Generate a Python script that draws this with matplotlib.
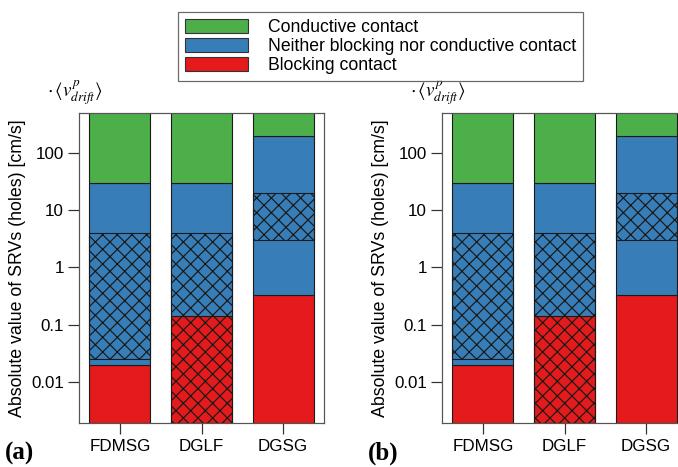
import matplotlib
matplotlib.use("Agg")
import matplotlib.pyplot as plt
from matplotlib.patches import Patch

# ---- data ----
categories = ["FDMSG", "DGLF", "DGSG"]
blocking_top = [0.02, 0.14, 0.33]        # top of red (blocking) segment
conductive_bottom = [30, 30, 200]        # bottom of green (conductive) segment
hatch_low = [0.025, None, 3]             # hatched region lower bound (None = axis bottom)
hatch_high = [4, 4, 20]                  # hatched region upper bound
ytick_vals = [0.01, 0.1, 1, 10, 100]
ytick_labels = ["0.01", "0.1", "1", "10", "100"]
legend_labels = ["Conductive contact", "Neither blocking nor conductive contact", "Blocking contact"]
panel_labels = ["(a)", "(b)"]

YMIN, YMAX = 0.0019, 500

GREEN, BLUE, RED = "#4daf4a", "#377eb8", "#e41a1c"
EDGE = "#1a1a1a"

dpi = 88
def px(p):
    return p * 72.0 / dpi

plt.rcParams["font.family"] = ["Liberation Sans", "DejaVu Sans"]
plt.rcParams["mathtext.fontset"] = "stix"
plt.rcParams["hatch.linewidth"] = 1.0
plt.rcParams["hatch.color"] = "black"

W, H = 678, 467
fig = plt.figure(figsize=(W / dpi, H / dpi), dpi=dpi)

def make_panel(left_px, label):
    ax = fig.add_axes([left_px / W, (H - 423) / H, 245 / W, 310 / H])
    ax.set_yscale("log")
    ax.set_ylim(YMIN, YMAX)
    ax.set_xlim(-0.5, 2.5)
    x = list(range(len(categories)))
    bw = 0.75
    reds = [b - YMIN for b in blocking_top]
    ax.bar(x, reds, bottom=YMIN, width=bw, color=RED, edgecolor=EDGE, linewidth=0.9, zorder=2)
    blues = [c - b for b, c in zip(blocking_top, conductive_bottom)]
    ax.bar(x, blues, bottom=blocking_top, width=bw, color=BLUE, edgecolor=EDGE, linewidth=0.9, zorder=2)
    greens = [YMAX * 1.5 - c for c in conductive_bottom]
    ax.bar(x, greens, bottom=conductive_bottom, width=bw, color=GREEN, edgecolor=EDGE, linewidth=0.9, zorder=2)
    lows = [YMIN if h is None else h for h in hatch_low]
    ax.bar(x, [hh - lo for lo, hh in zip(lows, hatch_high)], bottom=lows, width=bw,
           facecolor="none", edgecolor=EDGE, linewidth=0.9, hatch="xx", zorder=3)
    ax.set_xticks(x)
    ax.set_xticklabels(categories)
    ax.set_yticks(ytick_vals)
    ax.set_yticklabels(ytick_labels)
    ax.minorticks_off()
    ax.tick_params(axis="both", direction="out", length=px(11), width=1.0,
                   colors="#333333", labelcolor="black", labelsize=px(17))
    ax.tick_params(axis="y", pad=px(4))
    ax.tick_params(axis="x", pad=px(5))
    for s in ax.spines.values():
        s.set_color("#555555")
        s.set_linewidth(1.0)
    ax.set_ylabel("Absolute value of SRVs (holes) [cm/s]", fontsize=px(17.8), labelpad=px(5))
    ax.text(-0.13, 1.015, r"$\cdot\,\langle v^{p}_{drift}\rangle$", transform=ax.transAxes,
            fontsize=px(19), ha="left", va="bottom")
    fig.text((left_px - 74) / W, (H - 453) / H, label, fontsize=px(25), fontweight="bold",
             family=["Liberation Serif", "DejaVu Serif"], ha="left", va="center")
    return ax

make_panel(79, panel_labels[0])
make_panel(442, panel_labels[1])

handles = [Patch(facecolor=c, edgecolor="#333333", linewidth=0.9) for c in (GREEN, BLUE, RED)]
leg = fig.legend(handles, legend_labels, loc="upper left",
                 bbox_to_anchor=(178 / W, 1 - 12 / H), bbox_transform=fig.transFigure,
                 fontsize=px(17.6), frameon=True, fancybox=False, edgecolor="#444444",
                 handlelength=3.6, handleheight=0.8, handletextpad=1.1, labelspacing=0.12,
                 borderpad=0.4, borderaxespad=0)
leg.get_frame().set_linewidth(1.0)

fig.savefig("out.png", dpi=dpi)
